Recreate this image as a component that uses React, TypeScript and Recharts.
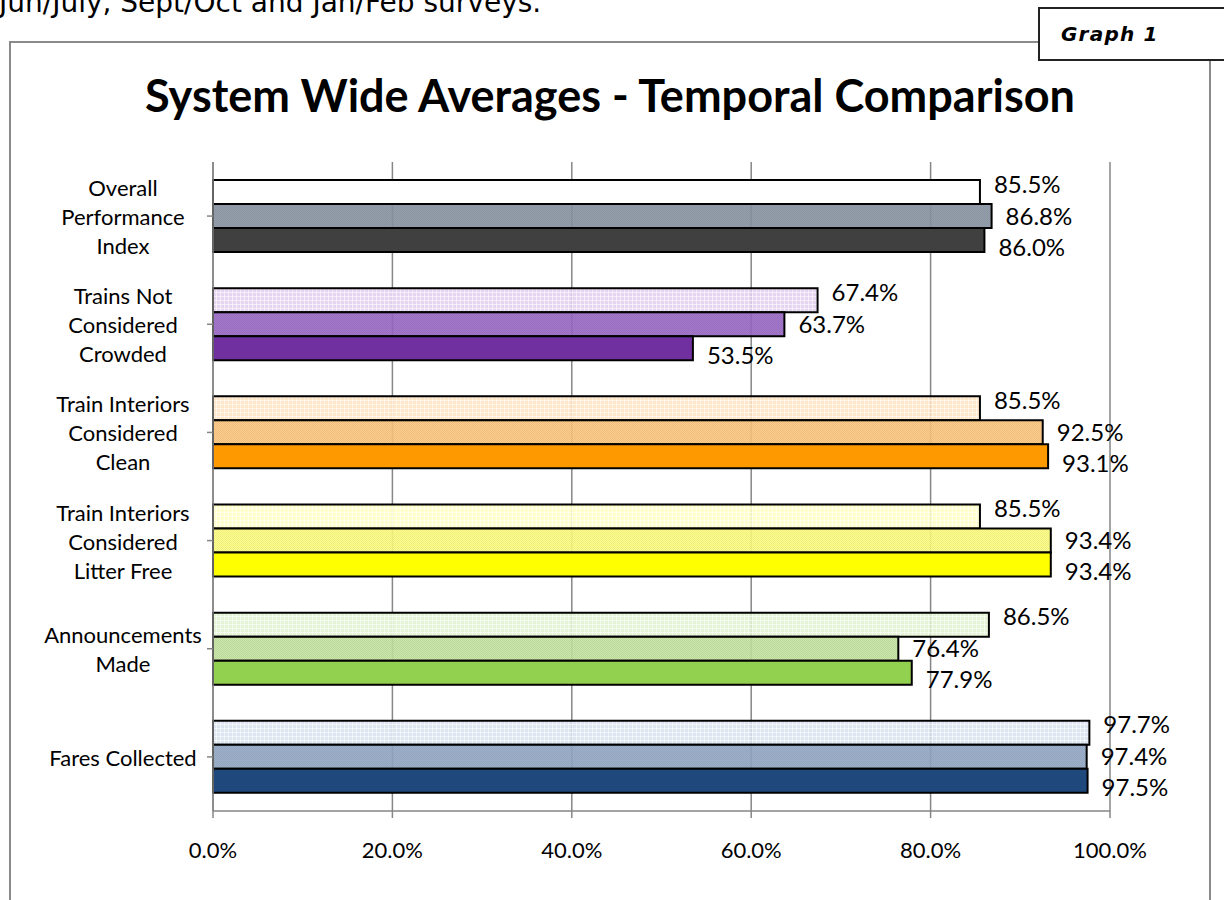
import React from 'react';
import { BarChart, Bar, Cell, XAxis, YAxis, CartesianGrid, LabelList } from 'recharts';

// categories top to bottom, '\n' marks the line breaks of the axis labels
const categories = [
  'Overall\nPerformance\nIndex',
  'Trains Not\nConsidered\nCrowded',
  'Train Interiors\nConsidered\nClean',
  'Train Interiors\nConsidered\nLitter Free',
  'Announcements\nMade',
  'Fares Collected',
];

const junJuly = [85.5, 67.4, 85.5, 85.5, 86.5, 97.7];
const septOct = [86.8, 63.7, 92.5, 93.4, 76.4, 97.4];
const janFeb = [86.0, 53.5, 93.1, 93.4, 77.9, 97.5];

const xTicks = [0, 20, 40, 60, 80, 100];

// per category colours, light -> dark
const lightColors = ['#FFFFFF', '#E2CFEE', '#FFE2C0', '#FFFFC4', '#E2F2D0', '#D8E2EE'];
const midColors = ['#8A95A4', '#9A68C8', '#FFC87E', '#FFFF80', '#C6E6A0', '#94A9C7'];
const darkColors = ['#404040', '#7030A0', '#FF9900', '#FFFF00', '#92D050', '#1F497D'];

const data = categories.map((name, i) => ({
  name,
  junJuly: junJuly[i],
  septOct: septOct[i],
  janFeb: janFeb[i],
}));

const FONT = 'Lato, "Noto Sans", sans-serif';

const fmtPct = (v: number) => `${Number(v).toFixed(1)}%`;

function CategoryTick({ x, y, payload }: any) {
  const lines = String(payload.value).split('\n');
  const lh = 29;
  const cx = x - 82;
  return (
    <text x={cx} y={y} textAnchor="middle" dominantBaseline="central" fontSize={22} fill="#000" fontFamily={FONT}>
      {lines.map((l, i) => (
        <tspan key={i} x={cx} dy={i === 0 ? -((lines.length - 1) * lh) / 2 : lh}>
          {l}
        </tspan>
      ))}
    </text>
  );
}

export default function App() {
  const series = [
    { key: 'junJuly', name: 'Jun/July', fill: (i: number) => (i === 0 ? lightColors[0] : `url(#grid-${i})`), dy: -8 },
    { key: 'septOct', name: 'Sept/Oct', fill: (i: number) => `url(#dots-${i})`, dy: 0 },
    { key: 'janFeb', name: 'Jan/Feb', fill: (i: number) => darkColors[i], dy: 7 },
  ];

  return (
    <div
      style={{
        position: 'absolute',
        left: 0,
        top: 0,
        width: 1224,
        height: 900,
        overflow: 'hidden',
        background: '#fff',
        fontFamily: FONT,
      }}
    >
      {/* cut-off line of the surrounding report text */}
      <div
        style={{
          position: 'absolute',
          left: -1,
          top: -13,
          fontFamily: '"DejaVu Sans", Verdana, sans-serif',
          fontSize: 28,
          lineHeight: '32px',
          color: '#000',
          whiteSpace: 'nowrap',
        }}
      >
        Jun/July, Sept/Oct and Jan/Feb surveys.
      </div>

      {/* chart frame */}
      <div
        style={{
          position: 'absolute',
          left: 9,
          top: 41,
          width: 1202,
          height: 900,
          border: '2px solid #8a8a8a',
          boxSizing: 'border-box',
        }}
      />

      {/* Graph 1 box */}
      <div
        style={{
          position: 'absolute',
          left: 1038,
          top: 7,
          width: 200,
          height: 54,
          border: '2px solid #222',
          boxSizing: 'border-box',
          background: '#fff',
          fontFamily: '"DejaVu Sans", Verdana, sans-serif',
          fontWeight: 'bold',
          fontStyle: 'italic',
          fontSize: 20,
          letterSpacing: 1.2,
          paddingLeft: 21,
          lineHeight: '50px',
          color: '#000',
        }}
      >
        Graph 1
      </div>

      <div
        style={{
          position: 'absolute',
          left: 0,
          top: 68,
          width: 1220,
          textAlign: 'center',
          fontFamily: FONT,
          fontWeight: 'bold',
          fontSize: 45,
          lineHeight: '54px',
          color: '#000',
        }}
      >
        System Wide Averages - Temporal Comparison
      </div>

      <div style={{ position: 'absolute', left: 0, top: 0 }}>
        <BarChart
          width={1224}
          height={900}
          data={data}
          layout="vertical"
          margin={{ top: 162, right: 114, bottom: 29, left: 13 }}
          barGap={0}
          barSize={24}
        >
          <defs>
            {lightColors.map((c, i) => (
              <pattern key={`g${i}`} id={`grid-${i}`} width={4} height={4} patternUnits="userSpaceOnUse">
                <rect width={4} height={4} fill={c} fillOpacity={0.88} />
                <rect width={4} height={1} fill="#fff" fillOpacity={0.55} />
                <rect width={1} height={4} fill="#fff" fillOpacity={0.55} />
              </pattern>
            ))}
            {midColors.map((c, i) => (
              <pattern key={`d${i}`} id={`dots-${i}`} width={2} height={2} patternUnits="userSpaceOnUse">
                <rect width={2} height={2} fill={c} fillOpacity={0.9} />
                <rect width={1} height={1} fill="#000" fillOpacity={0.07} />
                <rect x={1} y={1} width={1} height={1} fill="#000" fillOpacity={0.07} />
              </pattern>
            ))}
          </defs>
          <CartesianGrid horizontal={false} stroke="#868686" strokeWidth={1.5} />
          <XAxis
            type="number"
            domain={[0, 100]}
            ticks={xTicks}
            tickFormatter={fmtPct}
            height={60}
            axisLine={{ stroke: '#868686', strokeWidth: 1.5 }}
            tickLine={{ stroke: '#868686', strokeWidth: 1.5 }}
            tickSize={7}
            tickMargin={24}
            tick={{ fill: '#000', fontSize: 22, fontFamily: FONT }}
          />
          <YAxis
            type="category"
            dataKey="name"
            width={200}
            axisLine={{ stroke: '#868686', strokeWidth: 1.5 }}
            tickLine={{ stroke: '#868686', strokeWidth: 1.5 }}
            tickSize={6}
            tick={<CategoryTick />}
            interval={0}
          />
          {series.map((s) => (
            <Bar
              key={s.key}
              dataKey={s.key}
              name={s.name}
              stroke="#000"
              strokeWidth={2}
              isAnimationActive={false}
            >
              {data.map((_, i) => (
                <Cell key={i} fill={s.fill(i)} />
              ))}
              <LabelList
                dataKey={s.key}
                position="right"
                offset={14}
                dy={s.dy}
                formatter={fmtPct}
                fill="#000"
                fontSize={24}
                fontFamily={FONT}
              />
            </Bar>
          ))}
        </BarChart>
      </div>
    </div>
  );
}
